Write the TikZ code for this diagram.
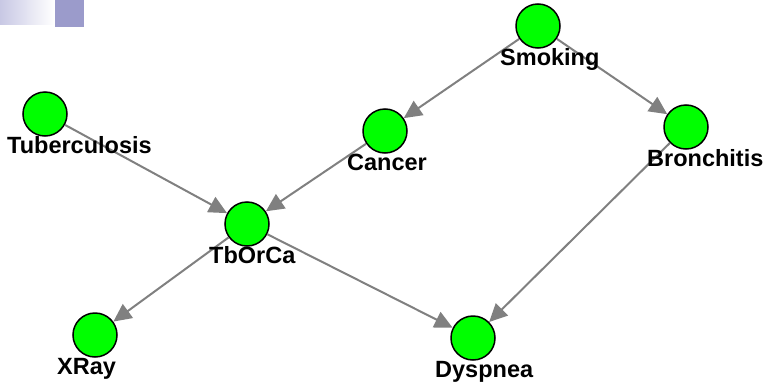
\documentclass[tikz,border=0pt]{standalone}
\usepackage{fontspec}
\setmainfont{Liberation Sans}
\usetikzlibrary{arrows.meta}

\definecolor{bngreen}{RGB}{0,255,0}
\definecolor{bngray}{RGB}{128,128,128}
\definecolor{bnblue}{RGB}{155,155,203}
\definecolor{bnpale}{RGB}{200,200,228}

\begin{document}
\begin{tikzpicture}
	[
		x=1pt, y=-1pt,
		var/.style = {shape=circle, draw=black, line width=1.5pt, fill=bngreen, minimum size=44pt, inner sep=0pt},
		lbl/.style = {anchor=base west, inner sep=0pt, font=\bfseries\fontsize{23.5}{26}\selectfont},
		dep/.style = {draw=bngray, line width=2pt, -{Triangle[length=18pt, width=17pt]}}
	]
	
	\useasboundingbox (0,0) rectangle (766,383);
	
	\fill [left color=bnpale, right color=white] (0,0) rectangle (54,24);
	\fill [bnblue] (55,0) rectangle (84,27);
	
	\node [var] (smoking) at (538,26) {};
	\node [var] (tuberculosis) at (45,114) {};
	\node [var] (cancer) at (385,131) {};
	\node [var] (bronchitis) at (686,127) {};
	\node [var] (tborca) at (247,224) {};
	\node [var] (xray) at (95,335) {};
	\node [var] (dyspnea) at (473,338) {};
	
	\draw [dep] (smoking) -- (cancer);
	\draw [dep] (smoking) -- (bronchitis);
	\draw [dep] (tuberculosis) -- (tborca);
	\draw [dep] (cancer) -- (tborca);
	\draw [dep] (tborca) -- (xray);
	\draw [dep] (tborca) -- (dyspnea);
	\draw [dep] (bronchitis) -- (dyspnea);
	
	\node [lbl] (smokinglbl) at ([xshift=-38pt, yshift=-39pt] smoking.center) {Smoking};
	\node [lbl] (tuberculosislbl) at ([xshift=-38pt, yshift=-39pt] tuberculosis.center) {Tuberculosis};
	\node [lbl] (cancerlbl) at ([xshift=-38pt, yshift=-39pt] cancer.center) {Cancer};
	\node [lbl] (bronchitislbl) at ([xshift=-39pt, yshift=-39pt] bronchitis.center) {Bronchitis};
	\node [lbl] (tborcalbl) at ([xshift=-38pt, yshift=-39pt] tborca.center) {TbOrCa};
	\node [lbl] (xraylbl) at ([xshift=-38pt, yshift=-39pt] xray.center) {XRay};
	\node [lbl] (dyspnealbl) at ([xshift=-38pt, yshift=-39pt] dyspnea.center) {Dyspnea};
	
\end{tikzpicture}
\end{document}
